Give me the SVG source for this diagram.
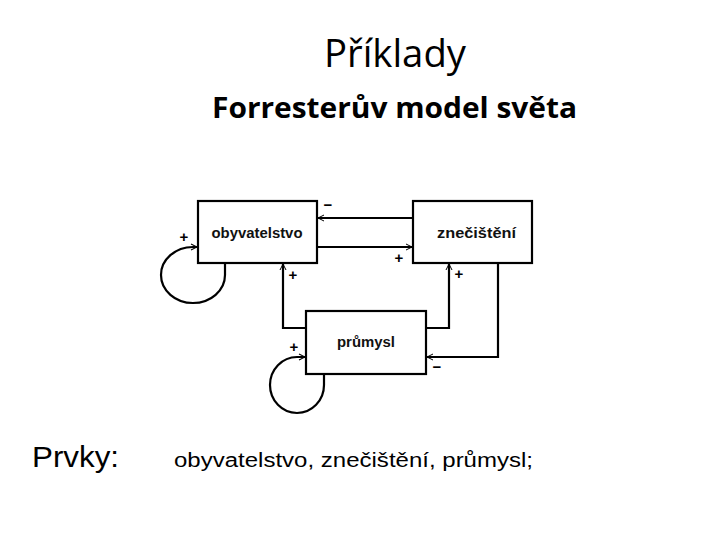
<svg xmlns="http://www.w3.org/2000/svg" width="720" height="540" viewBox="0 0 720 540">
<style>
.box{fill:#fff;stroke:#000;stroke-width:2.2}
.lbl{font-family:"Liberation Sans",Arial,sans-serif;font-weight:bold;font-size:14.5px;fill:#111;text-anchor:middle}
.sign{font-family:"Liberation Sans",Arial,sans-serif;font-weight:bold;font-size:15px;fill:#000;text-anchor:middle}
.con{fill:none;stroke:#000;stroke-width:2.2}
</style>
<defs>
<marker id="arr" markerWidth="10" markerHeight="10" refX="7" refY="4" orient="auto" markerUnits="userSpaceOnUse">
<path d="M1,1 L7,4 L1,7" fill="none" stroke="#000" stroke-width="1"/>
</marker>
</defs>
<rect width="720" height="540" fill="#fff"/>
<text x="395" y="67" font-family="'Open Sans','Liberation Sans',sans-serif" font-size="38" text-anchor="middle" fill="#000" textLength="142" lengthAdjust="spacingAndGlyphs">Příklady</text>
<text x="394.5" y="118" font-family="'Open Sans','Liberation Sans',sans-serif" font-weight="bold" font-size="28" text-anchor="middle" fill="#000" textLength="365" lengthAdjust="spacingAndGlyphs">Forresterův model světa</text>
<g id="connectors">
<path class="con" d="M413,218 L318,218" marker-end="url(#arr)"/>
<path class="con" d="M317,247 L412,247" marker-end="url(#arr)"/>
<path class="con" d="M225,263 L225,275 A32,28 0 1 1 193,247 L197,247" marker-end="url(#arr)"/>
<path class="con" d="M306,328 L283,328 L283,264" marker-end="url(#arr)"/>
<path class="con" d="M426,328 L449,328 L449,264" marker-end="url(#arr)"/>
<path class="con" d="M498,263 L498,357 L427,357" marker-end="url(#arr)"/>
<path class="con" d="M324,374 L324,385 A27,28 0 1 1 297,357 L305,357" marker-end="url(#arr)"/>
<text class="sign" x="328" y="210">−</text>
<text class="sign" x="399" y="263">+</text>
<text class="sign" x="184" y="242">+</text>
<text class="sign" x="293" y="280">+</text>
<text class="sign" x="459" y="279">+</text>
<text class="sign" x="437" y="372">−</text>
<text class="sign" x="294" y="352">+</text>
</g>
<g id="obyvatelstvo">
<rect class="box" x="198" y="201" width="119" height="62"/>
<text class="lbl" x="257" y="238" textLength="91" lengthAdjust="spacingAndGlyphs">obyvatelstvo</text>
</g>
<g id="znecisteni">
<rect class="box" x="413" y="201" width="119" height="62"/>
<text class="lbl" x="476.5" y="238" textLength="79" lengthAdjust="spacingAndGlyphs">znečištění</text>
</g>
<g id="prumysl">
<rect class="box" x="306" y="311" width="120" height="63"/>
<text class="lbl" x="366" y="347" textLength="58" lengthAdjust="spacingAndGlyphs">průmysl</text>
</g>
<text x="32" y="467" font-family="'Liberation Sans',Arial,sans-serif" font-size="29" fill="#000" textLength="87" lengthAdjust="spacingAndGlyphs">Prvky:</text>
<text x="174" y="467" font-family="'Liberation Sans',Arial,sans-serif" font-size="20" fill="#000" textLength="359" lengthAdjust="spacingAndGlyphs">obyvatelstvo, znečištění, průmysl;</text>
</svg>
